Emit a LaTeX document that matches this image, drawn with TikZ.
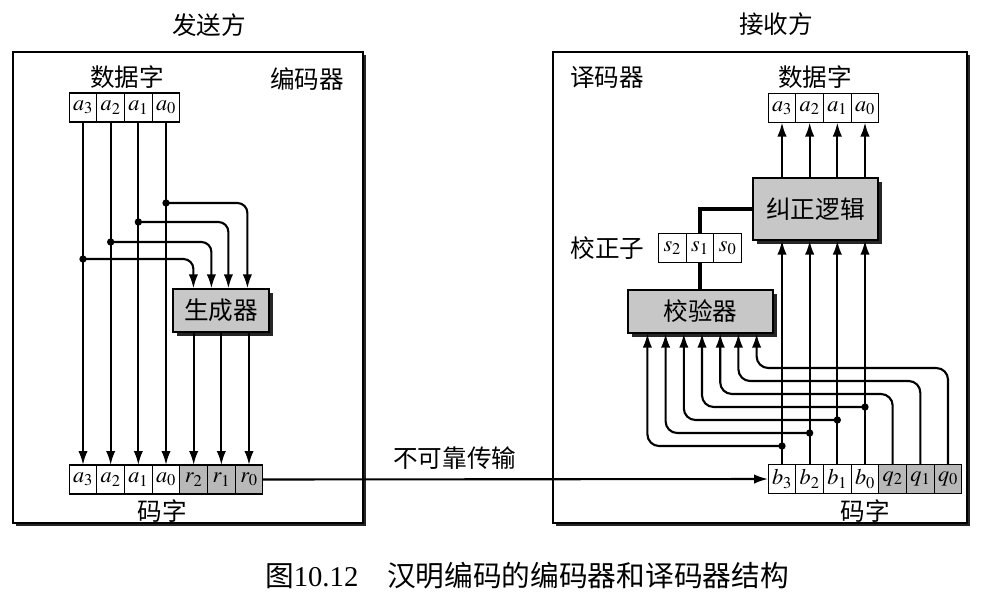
\documentclass[tikz,border=0pt]{standalone}
\usepackage{mathptmx}
\usepackage[no-math]{fontspec}
\setmainfont{Liberation Serif}
\newfontfamily\cjk{Noto Sans CJK SC}
\usetikzlibrary{arrows.meta, positioning, shadows}
\tikzstyle{frame} = [draw, rectangle, fill=white, line width=1.1pt, drop shadow={shadow xshift=1mm, shadow yshift=-1mm, fill=black!85, opacity=1}]
\tikzstyle{cell} = [draw, rectangle, minimum width=8.3mm, minimum height=8.7mm, inner sep=0pt, outer sep=0pt, line width=1pt, font=\fontsize{19}{21}\selectfont]
\tikzstyle{pcell} = [cell, fill=black!28]
\tikzstyle{unit} = [draw, rectangle, fill=black!22, line width=1pt, drop shadow={shadow xshift=1.3mm, shadow yshift=-1.3mm, fill=black!85, opacity=1}, font=\cjk\fontsize{21}{24}\selectfont]
\tikzstyle{txt} = [font=\cjk\fontsize{21}{24}\selectfont]
\tikzstyle{capt} = [font=\fontsize{24.5}{27}\selectfont, inner sep=0pt]
\tikzstyle{line} = [draw, line width=1.8pt, -{Latex[length=4.2mm,width=2.8mm]}]
\tikzstyle{bus} = [draw, line width=3.8pt]
\tikzstyle{dot} = [circle, fill, inner sep=0pt, minimum size=2.2mm]

\begin{document}
\begin{tikzpicture}[x=0.3mm, y=-0.3mm]
	\useasboundingbox (0,0) rectangle (983,593);

	% frames and titles
	\node [frame, minimum width=105mm, minimum height=141.3mm] (sender) at (188,287.5) {};
	\node [frame, minimum width=124.2mm, minimum height=141.3mm] (receiver) at (760,287.5) {};
	\node [txt] (sendtitle) at (209,25) {发送方};
	\node [txt] (recvtitle) at (776,24) {接收方};
	\node [txt] (enctitle) at (307,79) {编码器};
	\node [txt] (dectitle) at (607,77) {译码器};

	% encoder
	\node [cell] (dw1) at (83,107.5) {$a_3$};
	\node [cell, right=0pt of dw1] (dw2) {$a_2$};
	\node [cell, right=0pt of dw2] (dw3) {$a_1$};
	\node [cell, right=0pt of dw3] (dw4) {$a_0$};
	\node [txt] (dwlabel) at (127,77) {数据字};

	\node [cell] (cw1) at (83,479.5) {$a_3$};
	\node [cell, right=0pt of cw1] (cw2) {$a_2$};
	\node [cell, right=0pt of cw2] (cw3) {$a_1$};
	\node [cell, right=0pt of cw3] (cw4) {$a_0$};
	\node [pcell, right=0pt of cw4] (cw5) {$r_2$};
	\node [pcell, right=0pt of cw5] (cw6) {$r_1$};
	\node [pcell, right=0pt of cw6] (cw7) {$r_0$};
	\node [txt] (cwlabel) at (162,511) {码字};

	\node [unit, minimum width=28.8mm, minimum height=12.9mm] (gen) at (221,310.5) {生成器};

	\foreach \i in {1,...,4}
		\path [line] (dw\i) -- (cw\i);
	\foreach \i/\lv/\off in {1/259/6.3, 2/242/11.7, 3/222/16.8, 4/203/22.5} {
		\coordinate (glv\i) at (0,\lv);
		\node [dot] (d\i) at (dw\i |- glv\i) {};
		\path [line, rounded corners=3mm] (d\i.center) -| ([xshift=\off mm]gen.north west);
	}
	\foreach \i in {5,6,7}
		\path [line] (cw\i |- gen.south) -- (cw\i);

	% decoder
	\node [cell] (rdw1) at (782,108) {$a_3$};
	\node [cell, right=0pt of rdw1] (rdw2) {$a_2$};
	\node [cell, right=0pt of rdw2] (rdw3) {$a_1$};
	\node [cell, right=0pt of rdw3] (rdw4) {$a_0$};
	\node [txt] (rdwlabel) at (815,77) {数据字};

	\node [cell] (rcw1) at (782,479) {$b_3$};
	\node [cell, right=0pt of rcw1] (rcw2) {$b_2$};
	\node [cell, right=0pt of rcw2] (rcw3) {$b_1$};
	\node [cell, right=0pt of rcw3] (rcw4) {$b_0$};
	\node [pcell, right=0pt of rcw4] (rcw5) {$q_2$};
	\node [pcell, right=0pt of rcw5] (rcw6) {$q_1$};
	\node [pcell, right=0pt of rcw6] (rcw7) {$q_0$};
	\node [txt] (rcwlabel) at (865,511) {码字};

	% channel
	\path [line] (cw7) -- node [txt, pos=0.38, above=1.5mm] {不可靠传输} (rcw1);

	\node [unit, minimum width=37.5mm, minimum height=18.6mm] (fix) at (815.5,209) {纠正逻辑};
	\node [unit, minimum width=43.5mm, minimum height=12.9mm] (chk) at (700.5,311.5) {校验器};

	\node [cell] (s2) at (672.3,248) {$s_2$};
	\node [cell, right=0pt of s2] (s1) {$s_1$};
	\node [cell, right=0pt of s1] (s0) {$s_0$};
	\node [txt, left=3mm of s2] (slabel) {校正子};

	\path [bus] (s1 |- chk.north) -- (s1.south);
	\path [bus] (s1.north) |- (fix.west);

	\foreach \i in {1,...,4} {
		\path [line] (rcw\i) -- (rcw\i |- fix.south);
		\path [line] (rdw\i |- fix.north) -- (rdw\i);
	}
	\foreach \k/\off/\lv in {1/6/446, 2/11.46/433, 3/16.92/420, 4/22.38/407, 5/27.84/394, 6/33.3/381, 7/38.76/368} {
		\coordinate (in\k) at ([xshift=\off mm]chk.south west);
		\coordinate (lv\k) at (0,\lv);
	}
	\foreach \k in {1,...,4} {
		\node [dot] (bd\k) at (rcw\k |- lv\k) {};
		\path [line, rounded corners=3.5mm] (bd\k.center) -| (in\k);
	}
	\foreach \k in {5,6,7}
		\path [line, rounded corners=3.5mm] (rcw\k.north) |- (in\k |- lv\k) -- (in\k);

	% caption
	\node [capt] (caption) at (527,576) {\cjk 图\rmfamily 10.12\quad\cjk 汉明编码的编码器和译码器结构};
\end{tikzpicture}
\end{document}
